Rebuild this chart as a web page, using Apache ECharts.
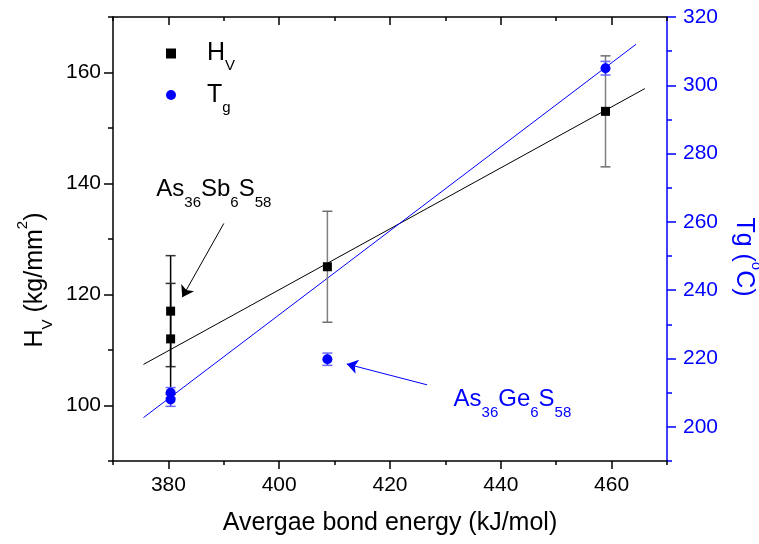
<!DOCTYPE html>
<html><head><meta charset="utf-8">
<script src="https://cdn.jsdelivr.net/npm/echarts@6/dist/echarts.min.js"></script>
<style>html,body{margin:0;padding:0;background:#fff}#c{width:759px;height:544px}</style>
</head><body><div id="c"></div>
<script>
// ---- tick values ----
const xTicks = [380, 400, 420, 440, 460];
const xMinorTicks = [370, 390, 410, 430, 450, 470];
const hvTicks = [100, 120, 140, 160];
const hvMinorTicks = [90, 110, 130, 150, 170];
const tgTicks = [200, 220, 240, 260, 280, 300, 320];
const tgMinorTicks = [190, 210, 230, 250, 270, 290, 310];

// ---- data ----
const bondEnergy = [380.4, 380.4, 408.7, 458.9];
const hvValues = [117, 112, 125, 153];
const hvErrors = [10, 10, 10, 10];
const tgValues = [210, 208, 219.8, 305];
const tgErrors = [1.5, 2, 1.8, 2];

// linear fits (end points)
const hvFitX = [375.5, 466.0];
const hvFitY = [107.4, 157.1];
const tgFitX = [375.5, 464.4];
const tgFitY = [202.7, 312.0];

// annotations (data units)
const sbLabelAt = [388.2, 139.0];
const sbArrowFrom = [390.0, 132.8];
const sbArrowTo = [382.5, 119.5];
const geLabelAt = [442.1, 208.0];
const geArrowFrom = [426.7, 212.3];
const geArrowTo = [412.2, 218.4];

const F = '"Liberation Sans", Arial, sans-serif';
const BLUE = '#0000ff';

function richSet(main, sub, pad, color) {
  return {
    n: {fontSize: main, fontFamily: F, color: color},
    s: {fontSize: sub, fontFamily: F, color: color, padding: [pad, 0, 0, 0]},
    p: {fontSize: sub, fontFamily: F, color: color, padding: [0, 0, pad, 0]},
    g: {width: 26, fontSize: main}
  };
}

const chart = echarts.init(document.getElementById('c'), null, {renderer: 'canvas'});

const baseX = {type: 'value', min: 370, max: 470, splitLine: {show: false}};
const blackLine = {color: '#000', width: 1.5};
const blueLine = {color: BLUE, width: 1.5};

function errRender(color, capColor, capHalf) {
  return function (params, api) {
    const x = api.value(0);
    const lo = api.coord([x, api.value(1)]);
    const hi = api.coord([x, api.value(2)]);
    const c = typeof color === 'function' ? color(params.dataIndex) : color;
    const cc = typeof capColor === 'function' ? capColor(params.dataIndex) : capColor;
    return {
      type: 'group',
      children: [
        {type: 'line', shape: {x1: lo[0], y1: lo[1], x2: hi[0], y2: hi[1]}, style: {stroke: c, lineWidth: 1.5}},
        {type: 'line', shape: {x1: lo[0] - capHalf, y1: lo[1], x2: lo[0] + capHalf, y2: lo[1]}, style: {stroke: cc, lineWidth: 1.5}},
        {type: 'line', shape: {x1: hi[0] - capHalf, y1: hi[1], x2: hi[0] + capHalf, y2: hi[1]}, style: {stroke: cc, lineWidth: 1.5}}
      ]
    };
  };
}

const option = {
  animation: false,
  backgroundColor: '#fff',
  grid: {left: 113, right: 92, top: 17, bottom: 83, containLabel: false, outerBoundsMode: 'none'},
  legend: {
    orient: 'vertical', left: 166, top: 41, padding: 0,
    itemWidth: 10, itemHeight: 10, itemGap: 9, selectedMode: false,
    data: [{name: 'HV', icon: 'rect'}, {name: 'Tg', icon: 'circle'}],
    formatter: function (name) {
      return name === 'HV' ? '{g|}{n|H}{s|V}' : '{g|}{n|T}{s|g}';
    },
    textStyle: {fontSize: 25, fontFamily: F, color: '#000', rich: richSet(25, 15, 25, '#000')}
  },
  xAxis: [
    Object.assign({}, baseX, {
      position: 'bottom',
      axisLine: {show: true, onZero: false, lineStyle: blackLine},
      axisTick: {show: true, customValues: xTicks, length: 8, lineStyle: blackLine},
      axisLabel: {customValues: xTicks, fontSize: 21, fontFamily: F, color: '#000', margin: 14},
      name: 'Avergae bond energy (kJ/mol)', nameLocation: 'middle', nameGap: 50,
      nameTextStyle: {fontSize: 25, fontFamily: F, color: '#000'}
    }),
    Object.assign({}, baseX, {
      position: 'bottom',
      axisLine: {show: false},
      axisTick: {show: true, customValues: xMinorTicks, length: 4, lineStyle: blackLine},
      axisLabel: {show: false}
    }),
    Object.assign({}, baseX, {
      position: 'top',
      axisLine: {show: true, onZero: false, lineStyle: blackLine},
      axisTick: {show: true, inside: true, customValues: xTicks, length: 8, lineStyle: blackLine},
      axisLabel: {show: false}
    }),
    Object.assign({}, baseX, {
      position: 'top',
      axisLine: {show: false},
      axisTick: {show: true, inside: true, customValues: xMinorTicks, length: 4, lineStyle: blackLine},
      axisLabel: {show: false}
    })
  ],
  yAxis: [
    {
      type: 'value', min: 90, max: 170, position: 'left', splitLine: {show: false},
      axisLine: {show: true, onZero: false, lineStyle: blackLine},
      axisTick: {show: true, customValues: hvTicks, length: 9, lineStyle: blackLine},
      axisLabel: {customValues: hvTicks, fontSize: 21, fontFamily: F, color: '#000', margin: 12},
      name: '{n|H}{s|V}{n| (kg/mm}{p|2}{n|)}', nameLocation: 'middle', nameRotate: 90, nameGap: 57,
      nameTextStyle: {fontSize: 25, fontFamily: F, color: '#000', padding: [0, 82, 0, 0], rich: richSet(25, 15, 25, '#000')}
    },
    {
      type: 'value', min: 90, max: 170, position: 'left', splitLine: {show: false},
      axisLine: {show: false},
      axisTick: {show: true, customValues: hvMinorTicks, length: 5, lineStyle: blackLine},
      axisLabel: {show: false}
    },
    {
      type: 'value', min: 190, max: 320, position: 'right', splitLine: {show: false},
      axisLine: {show: true, onZero: false, lineStyle: blueLine},
      axisTick: {show: true, customValues: tgTicks, length: 9, lineStyle: blueLine},
      axisLabel: {customValues: tgTicks, fontSize: 21, fontFamily: F, color: BLUE, margin: 16},
      name: '{n|Tg (}{p|o}{n|C)}', nameLocation: 'middle', nameRotate: -90, nameGap: 57,
      nameTextStyle: {fontSize: 25, fontFamily: F, color: BLUE, padding: [0, 0, 0, 36], rich: richSet(25, 15, 25, BLUE)}
    },
    {
      type: 'value', min: 190, max: 320, position: 'right', splitLine: {show: false},
      axisLine: {show: false},
      axisTick: {show: true, customValues: tgMinorTicks, length: 5, lineStyle: blueLine},
      axisLabel: {show: false}
    }
  ],
  series: [
    {
      name: 'hvFit', type: 'line', xAxisIndex: 0, yAxisIndex: 0, showSymbol: false, silent: true, z: 2,
      data: hvFitX.map((x, i) => [x, hvFitY[i]]),
      lineStyle: {color: '#000', width: 1}
    },
    {
      name: 'tgFit', type: 'line', xAxisIndex: 0, yAxisIndex: 2, showSymbol: false, silent: true, z: 2,
      data: tgFitX.map((x, i) => [x, tgFitY[i]]),
      lineStyle: {color: BLUE, width: 1}
    },
    {
      name: 'hvErr', type: 'custom', xAxisIndex: 0, yAxisIndex: 0, silent: true, z: 3,
      data: bondEnergy.map((x, i) => [x, hvValues[i] - hvErrors[i], hvValues[i] + hvErrors[i]]),
      encode: {x: 0, y: [1, 2]},
      renderItem: errRender(i => i < 2 ? '#000' : '#7f7f7f', i => i < 2 ? '#333' : '#6f6f6f', 5)
    },
    {
      name: 'tgErr', type: 'custom', xAxisIndex: 0, yAxisIndex: 2, silent: true, z: 3,
      data: bondEnergy.map((x, i) => [x, tgValues[i] - tgErrors[i], tgValues[i] + tgErrors[i]]),
      encode: {x: 0, y: [1, 2]},
      renderItem: errRender('#2a2aff', '#6a6aff', 5)
    },
    {
      name: 'HV', type: 'scatter', xAxisIndex: 0, yAxisIndex: 0, symbol: 'rect', symbolSize: 9, z: 5,
      itemStyle: {color: '#000', opacity: 1},
      data: bondEnergy.map((x, i) => [x, hvValues[i]]),
      markPoint: {
        silent: true, symbol: 'circle', symbolSize: 1, itemStyle: {color: 'rgba(0,0,0,0)'},
        label: {show: true, position: 'inside', color: '#000', fontFamily: F, fontSize: 24,
          formatter: '{n|As}{s|36}{n|Sb}{s|6}{n|S}{s|58}', rich: richSet(24, 15, 27, '#000')},
        data: [{coord: sbLabelAt}]
      },
      markLine: {
        silent: true, symbol: ['none', 'arrow'], symbolSize: 11,
        label: {show: false}, lineStyle: {color: '#000', width: 1, type: 'solid'},
        data: [[{coord: sbArrowFrom}, {coord: sbArrowTo}]]
      }
    },
    {
      name: 'Tg', type: 'scatter', xAxisIndex: 0, yAxisIndex: 2, symbol: 'circle', symbolSize: 10, z: 5,
      itemStyle: {color: BLUE, opacity: 1},
      data: bondEnergy.map((x, i) => [x, tgValues[i]]),
      markPoint: {
        silent: true, symbol: 'circle', symbolSize: 1, itemStyle: {color: 'rgba(0,0,0,0)'},
        label: {show: true, position: 'inside', color: BLUE, fontFamily: F, fontSize: 24,
          formatter: '{n|As}{s|36}{n|Ge}{s|6}{n|S}{s|58}', rich: richSet(24, 15, 27, BLUE)},
        data: [{coord: geLabelAt}]
      },
      markLine: {
        silent: true, symbol: ['none', 'arrow'], symbolSize: 11,
        label: {show: false}, lineStyle: {color: BLUE, width: 1, type: 'solid'},
        data: [[{coord: geArrowFrom}, {coord: geArrowTo}]]
      }
    }
  ]
};
chart.setOption(option);
</script>
</body></html>
